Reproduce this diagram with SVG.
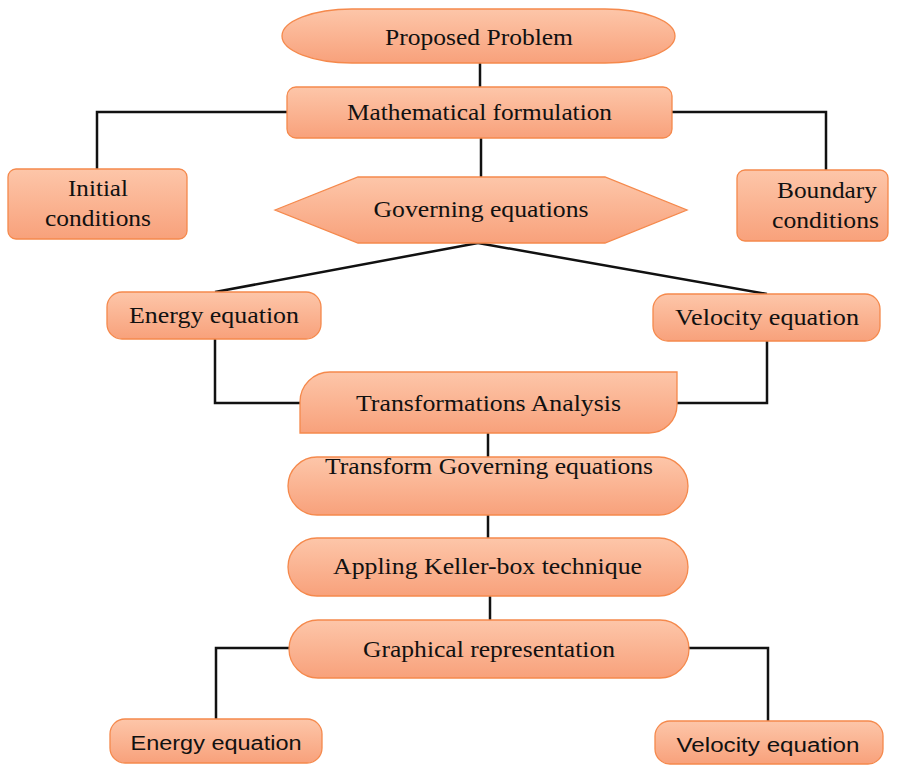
<svg xmlns="http://www.w3.org/2000/svg" width="905" height="765" viewBox="0 0 905 765">
<defs>
<linearGradient id="g" x1="0" y1="0" x2="0" y2="1">
<stop offset="0" stop-color="#fdc6a9"/>
<stop offset="1" stop-color="#f8a17b"/>
</linearGradient>
<style>
.n{fill:url(#g);stroke:#f5894c;stroke-width:1.3}
.t{font-family:"Liberation Serif","Times New Roman",serif;font-size:23px;fill:#111;text-anchor:middle}
.s{font-family:"Liberation Sans",Arial,sans-serif;font-size:20px;fill:#111;text-anchor:middle}
.c{fill:none;stroke:#111;stroke-width:2.5}
</style>
</defs>
<rect width="905" height="765" fill="#fff"/>
<g id="connectors">
<path class="c" d="M480,63 V87"/>
<path class="c" d="M287,112 H97 V170"/>
<path class="c" d="M672,112 H826 V171"/>
<path class="c" d="M481,138 V177"/>
<path class="c" d="M478,243 L215,292"/>
<path class="c" d="M478,243 L767,294"/>
<path class="c" d="M215,339 V403 H301"/>
<path class="c" d="M767,341 V403 H677"/>
<path class="c" d="M488,433 V457"/>
<path class="c" d="M488,515 V538"/>
<path class="c" d="M490,596 V620"/>
<path class="c" d="M290,648 H216 V719"/>
<path class="c" d="M686,648 H768 V721"/>
</g>
<g id="proposed">
<rect class="n" x="282" y="9" width="393" height="54" rx="70" ry="27"/>
<text class="t" x="479" y="45" textLength="188" lengthAdjust="spacingAndGlyphs">Proposed Problem</text>
</g>
<g id="math">
<rect class="n" x="287" y="87" width="385" height="51" rx="9"/>
<text class="t" x="479.5" y="120" textLength="265" lengthAdjust="spacingAndGlyphs">Mathematical formulation</text>
</g>
<g id="initial">
<rect class="n" x="8" y="169" width="179" height="70" rx="8"/>
<text class="t" x="98" y="196" textLength="60" lengthAdjust="spacingAndGlyphs">Initial</text>
<text class="t" x="98" y="226" textLength="106" lengthAdjust="spacingAndGlyphs">conditions</text>
</g>
<g id="boundary">
<rect class="n" x="737" y="170" width="151" height="71" rx="8"/>
<text class="t" x="827" y="198" textLength="100" lengthAdjust="spacingAndGlyphs">Boundary</text>
<text class="t" x="825.5" y="228" textLength="107" lengthAdjust="spacingAndGlyphs">conditions</text>
</g>
<g id="governing">
<polygon class="n" points="275,210 358,177 605,177 687,210 605,243 358,243"/>
<text class="t" x="481" y="217" textLength="215" lengthAdjust="spacingAndGlyphs">Governing equations</text>
</g>
<g id="energy1">
<rect class="n" x="107" y="292" width="214" height="47" rx="15"/>
<text class="t" x="214" y="323" textLength="170" lengthAdjust="spacingAndGlyphs">Energy equation</text>
</g>
<g id="velocity1">
<rect class="n" x="653" y="294" width="227" height="47" rx="15"/>
<text class="t" x="767" y="325" textLength="184" lengthAdjust="spacingAndGlyphs">Velocity equation</text>
</g>
<g id="transformations">
<path class="n" d="M300,433 V402 A30,30 0 0 1 330,372 H677 V405 A28,28 0 0 1 649,433 Z"/>
<text class="t" x="488.5" y="411" textLength="265" lengthAdjust="spacingAndGlyphs">Transformations Analysis</text>
</g>
<g id="transformgov">
<rect class="n" x="288" y="457" width="400" height="58" rx="29"/>
<text class="t" x="489" y="474" textLength="328" lengthAdjust="spacingAndGlyphs">Transform Governing equations</text>
</g>
<g id="keller">
<rect class="n" x="288" y="538" width="400" height="58" rx="29"/>
<text class="t" x="487.5" y="574" textLength="309" lengthAdjust="spacingAndGlyphs">Appling Keller-box technique</text>
</g>
<g id="graphical">
<rect class="n" x="289" y="620" width="400" height="58" rx="29"/>
<text class="t" x="489" y="657" textLength="252" lengthAdjust="spacingAndGlyphs">Graphical representation</text>
</g>
<g id="energy2">
<rect class="n" x="110" y="719" width="212" height="44" rx="15"/>
<text class="s" x="216" y="750" textLength="171" lengthAdjust="spacingAndGlyphs">Energy equation</text>
</g>
<g id="velocity2">
<rect class="n" x="655" y="721" width="228" height="43" rx="15"/>
<text class="s" x="768" y="752" textLength="183" lengthAdjust="spacingAndGlyphs">Velocity equation</text>
</g>
</svg>
